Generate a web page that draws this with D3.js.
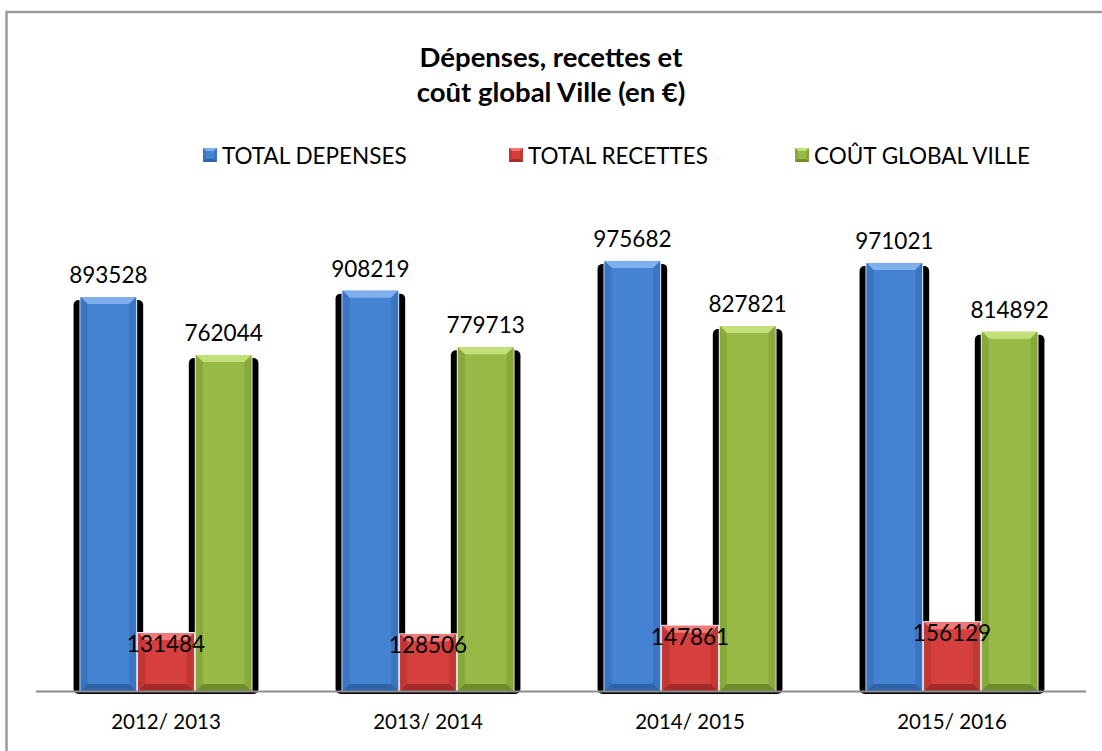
<!DOCTYPE html>
<html>
<head>
<meta charset="utf-8">
<script src="https://cdn.jsdelivr.net/npm/d3@7"></script>
<style>
  body { margin: 0; background: #fff; }
  text { font-family: Lato, "Open Sans", sans-serif; fill: #000; }
</style>
</head>
<body>
<div id="chart"></div>
<script>
// values
var categories = ["2012/ 2013", "2013/ 2014", "2014/ 2015", "2015/ 2016"];
var seriesNames = ["TOTAL DEPENSES", "TOTAL RECETTES", "COÛT GLOBAL VILLE"];
var depenses = [893528, 908219, 975682, 971021];
var recettes = [131484, 128506, 147861, 156129];
var coutGlobal = [762044, 779713, 827821, 814892];
var titleLines = ["Dépenses, recettes et", "coût global Ville (en €)"];

var width = 1102, height = 751;
var series = [depenses, recettes, coutGlobal];
var colours = [
  {face: "#4583d2", light: "#7fb0ec", dark: "#2f63a8", side: "#3b74c0"},
  {face: "#d5403e", light: "#f07a78", dark: "#a32a29", side: "#c23734"},
  {face: "#97b946", light: "#c3df7a", dark: "#6f8c2c", side: "#88a83c"}
];

var svg = d3.select("#chart").append("svg")
  .attr("width", width)
  .attr("height", height);

// chart frame
svg.append("rect")
  .attr("x", 6.5).attr("y", 12)
  .attr("width", width + 20).attr("height", height + 20)
  .attr("fill", "none")
  .attr("stroke", "#9a9a9a")
  .attr("stroke-width", 2.5);

//scales
var x0 = d3.scaleBand()
  .domain(categories)
  .range([35, 1083])
  .paddingInner(0.34)
  .paddingOuter(0.17);

var x1 = d3.scaleBand()
  .domain(d3.range(series.length))
  .range([0, x0.bandwidth()]);

var y = d3.scaleLinear()
  .domain([0, 1200000])
  .range([691, 162]);

var baseY = y(0);

// title
svg.append("text")
  .attr("text-anchor", "middle")
  .style("font-weight", "bold")
  .style("font-size", "27.5px")
  .selectAll("tspan")
  .data(titleLines)
  .enter().append("tspan")
  .attr("x", 551)
  .attr("y", function (d, i) { return 67 + i * 35; })
  .text(function (d) { return d; });

// legend
var legendX = [203, 509, 795];
var legend = svg.selectAll(".legend")
  .data(seriesNames)
  .enter().append("g")
  .attr("class", "legend")
  .attr("transform", function (d, i) { return "translate(" + legendX[i] + ",148)"; });

legend.each(function (d, i) {
  drawBevel(d3.select(this), 0, 0, 14, 14, colours[i], 3);
});
legend.append("text")
  .attr("x", 19)
  .attr("y", 15.5)
  .style("font-size", "22.5px")
  .text(function (d) { return d; });

// bars
var data = [];
categories.forEach(function (c, ci) {
  series.forEach(function (s, si) {
    data.push({cat: c, s: si, value: s[ci]});
  });
});

var shadows = svg.append("g");
shadows.selectAll("rect")
  .data(data)
  .enter().append("rect")
  .attr("x", function (d) { return x0(d.cat) + x1(d.s) - 6; })
  .attr("y", function (d) { return y(d.value) + 3; })
  .attr("width", x1.bandwidth() + 12)
  .attr("height", function (d) { return baseY - y(d.value); })
  .attr("rx", 5)
  .attr("fill", "#000");

var bars = svg.append("g");
bars.selectAll("g")
  .data(data)
  .enter().append("g")
  .each(function (d) {
    var bx = x0(d.cat) + x1(d.s) + 1;
    var bw = x1.bandwidth() - 2;
    var by = y(d.value);
    var g = d3.select(this);
    g.append("rect")
      .attr("x", bx - 1).attr("y", by - 1)
      .attr("width", bw + 2).attr("height", baseY - by + 1)
      .attr("fill", "#fff");
    drawBevel(g, bx, by, bw, baseY - by, colours[d.s], 7);
  });

// axis line
svg.append("line")
  .attr("x1", 36).attr("x2", 1086)
  .attr("y1", baseY + 0.5).attr("y2", baseY + 0.5)
  .attr("stroke", "#8c8c8c")
  .attr("stroke-width", 2);

// category labels
svg.selectAll(".cat")
  .data(categories)
  .enter().append("text")
  .attr("class", "cat")
  .attr("x", function (d) { return x0(d) + x0.bandwidth() / 2; })
  .attr("y", 729)
  .attr("text-anchor", "middle")
  .style("font-size", "20.5px")
  .text(function (d) { return d; });

// value labels
var labelOffset = [-14, 19, -14];
svg.selectAll(".label")
  .data(data)
  .enter().append("text")
  .attr("class", "label")
  .attr("x", function (d) { return x0(d.cat) + x1(d.s) + x1.bandwidth() / 2; })
  .attr("y", function (d) { return y(d.value) + labelOffset[d.s]; })
  .attr("text-anchor", "middle")
  .style("font-size", "22.5px")
  .text(function (d) { return d.value; });

function drawBevel(g, bx, by, bw, bh, c, b) {
  g.append("rect")
    .attr("x", bx).attr("y", by)
    .attr("width", bw).attr("height", bh)
    .attr("fill", c.face);
  var pts = function (arr) { return arr.map(function (p) { return p.join(","); }).join(" "); };
  // top
  g.append("polygon")
    .attr("points", pts([[bx, by], [bx + bw, by], [bx + bw - b, by + b], [bx + b, by + b]]))
    .attr("fill", c.light);
  // left
  g.append("polygon")
    .attr("points", pts([[bx, by], [bx + b, by + b], [bx + b, by + bh - b], [bx, by + bh]]))
    .attr("fill", c.side);
  // right
  g.append("polygon")
    .attr("points", pts([[bx + bw, by], [bx + bw - b, by + b], [bx + bw - b, by + bh - b], [bx + bw, by + bh]]))
    .attr("fill", c.side);
  // bottom
  g.append("polygon")
    .attr("points", pts([[bx, by + bh], [bx + b, by + bh - b], [bx + bw - b, by + bh - b], [bx + bw, by + bh]]))
    .attr("fill", c.dark);
}
</script>
</body>
</html>
